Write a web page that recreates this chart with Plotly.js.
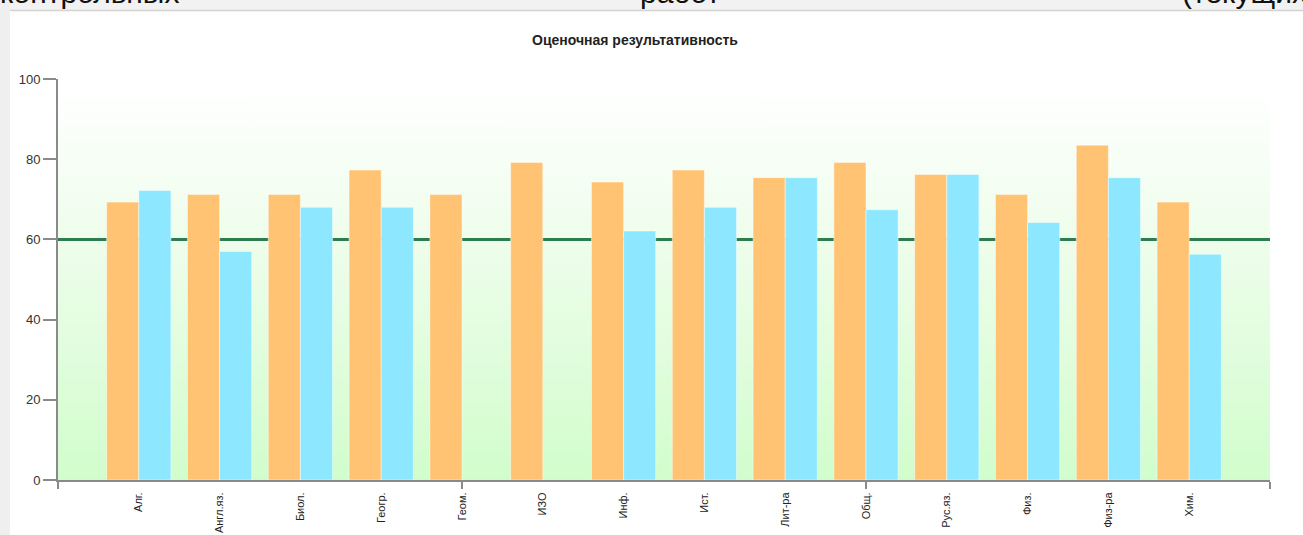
<!DOCTYPE html>
<html>
<head>
<meta charset="utf-8">
<script src="https://cdn.plot.ly/plotly-3.0.1.min.js"></script>
<style>
html,body{margin:0;padding:0;background:#fff;}
#chart{width:1303px;height:535px;}
</style>
</head>
<body>
<div id="chart"></div>
<script>
// ---- data ----
const categories = ["Алг.", "Англ.яз.", "Биол.", "Геогр.", "Геом.", "ИЗО", "Инф.", "Ист.", "Лит-ра", "Общ.", "Рус.яз.", "Физ.", "Физ-ра", "Хим."];
const seriesA = [69.3, 71.2, 71.2, 77.3, 71.2, 79.2, 74.3, 77.3, 75.4, 79.2, 76.2, 71.2, 83.5, 69.3];
const seriesB = [72.2, 57.0, 68.0, 68.0, null, null, 62.1, 68.0, 75.4, 67.4, 76.2, 64.2, 75.4, 56.3];
const threshold = 60;
const yTicks = [0, 20, 40, 60, 80, 100];
const titleText = "Оценочная результативность";
const pageTexts = ["контрольных", "работ", "(текущих)"];

// ---- layout helpers (pixel -> paper) ----
const W = 1303, H = 535;
const M = {l: 58, r: 33, t: 79, b: 55};
const PW = W - M.l - M.r, PH = H - M.t - M.b;
const px = x => (x - M.l) / PW;
const py = y => (H - M.b - y) / PH;

const xIdx = categories.map((_, i) => i);

const barLine = {color: 'rgba(255,255,255,0.45)', width: 1};
const traces = [
  {type: 'bar', x: xIdx, y: seriesA, marker: {color: '#ffc373', line: barLine}, hoverinfo: 'y', showlegend: false},
  {type: 'bar', x: xIdx, y: seriesB, marker: {color: '#8de8ff', line: barLine}, hoverinfo: 'y', showlegend: false}
];

const grad = '<svg xmlns="http://www.w3.org/2000/svg" width="100" height="100" preserveAspectRatio="none">' +
  '<defs><linearGradient id="g" x1="0" y1="0" x2="0" y2="1">' +
  '<stop offset="0" stop-color="#ffffff"/><stop offset="0.5" stop-color="#e9fde6"/><stop offset="1" stop-color="#d1fdcc"/>' +
  '</linearGradient></defs><rect width="100" height="100" fill="url(#g)"/></svg>';

const layout = {
  width: W, height: H,
  margin: M,
  paper_bgcolor: '#ffffff',
  plot_bgcolor: 'rgba(0,0,0,0)',
  barmode: 'group',
  bargap: 0.205,
  bargroupgap: 0,
  font: {family: 'Liberation Sans, Arial, sans-serif', color: '#222'},
  title: {
    text: '<b>' + titleText + '</b>',
    font: {size: 14, color: '#222', family: 'Liberation Sans, Arial, sans-serif'},
    x: px(635), xref: 'paper', xanchor: 'center',
    y: 1 - 40 / H, yref: 'container', yanchor: 'middle'
  },
  xaxis: {
    type: 'linear',
    range: [-1, 14],
    tickvals: xIdx,
    ticktext: categories,
    tickangle: -90,
    ticks: '',
    tickfont: {size: 11, color: '#222'},
    ticklabelstandoff: 6,
    showline: true, linecolor: '#8a8a8a', linewidth: 2,
    showgrid: false, zeroline: false,
    minor: {tickvals: [-1, 4, 9, 14], ticks: 'outside', ticklen: 7, tickcolor: '#8a8a8a', tickwidth: 2, showgrid: false},
    fixedrange: true
  },
  yaxis: {
    range: [0, 100],
    tickvals: yTicks,
    ticks: 'outside', ticklen: 13, tickcolor: '#8a8a8a', tickwidth: 2,
    tickfont: {size: 13, color: '#333'},
    showline: true, linecolor: '#8a8a8a', linewidth: 2,
    showgrid: false, zeroline: false,
    fixedrange: true
  },
  images: [{
    source: 'data:image/svg+xml;charset=utf-8,' + encodeURIComponent(grad),
    xref: 'paper', yref: 'paper',
    x: 0, y: py(88), sizex: 1, sizey: py(88),
    xanchor: 'left', yanchor: 'top',
    sizing: 'stretch', layer: 'below'
  }],
  shapes: [
    // page background around the chart container
    {type: 'rect', xref: 'paper', yref: 'paper', x0: px(0), x1: px(W), y0: py(10), y1: py(0), fillcolor: '#f2f2f2', line: {width: 0}, layer: 'below'},
    {type: 'rect', xref: 'paper', yref: 'paper', x0: px(0), x1: px(10), y0: py(H), y1: py(0), fillcolor: '#efefef', line: {width: 0}, layer: 'below'},
    {type: 'line', xref: 'paper', yref: 'paper', x0: px(10), x1: px(W), y0: py(10.5), y1: py(10.5), line: {color: '#d2d2d2', width: 1.5}, layer: 'below'},
    // threshold line
    {type: 'line', xref: 'paper', yref: 'y', x0: 0, x1: 1, y0: threshold, y1: threshold, line: {color: '#2e7d4f', width: 3}, layer: 'below'}
  ],
  annotations: [
    {text: pageTexts[0], xref: 'paper', yref: 'paper', x: px(-2), y: py(11), xanchor: 'left', yanchor: 'bottom', showarrow: false, font: {size: 30, color: '#111'}},
    {text: pageTexts[1], xref: 'paper', yref: 'paper', x: px(638), y: py(11), xanchor: 'left', yanchor: 'bottom', showarrow: false, font: {size: 30, color: '#111'}},
    {text: pageTexts[2], xref: 'paper', yref: 'paper', x: px(1180), y: py(11), xanchor: 'left', yanchor: 'bottom', showarrow: false, font: {size: 30, color: '#111'}}
  ]
};

Plotly.newPlot('chart', traces, layout, {displayModeBar: false, staticPlot: true});
</script>
</body>
</html>
